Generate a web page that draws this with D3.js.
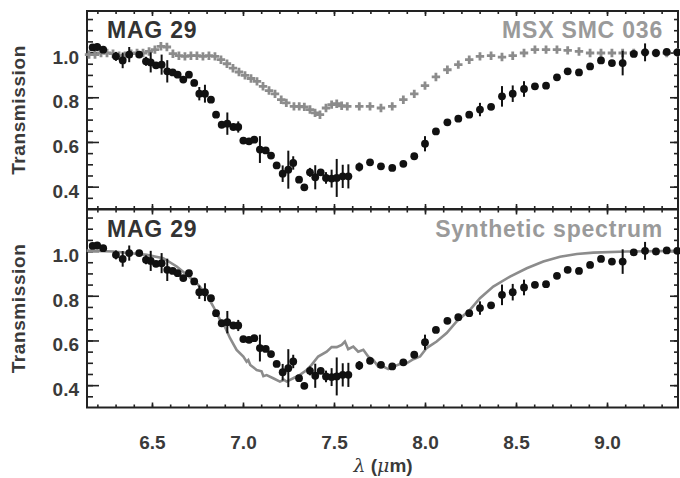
<!DOCTYPE html>
<html>
<head>
<meta charset="utf-8">
<script src="https://cdn.jsdelivr.net/npm/d3@7"></script>
<style>
  body { margin: 0; background: #fff; }
  text { font-family: "Liberation Sans", Arial, sans-serif; font-weight: bold; }
</style>
</head>
<body>
<script>
// MAG 29 optical depth points (wavelength in micron)
const wave = [6.174, 6.199, 6.232, 6.302, 6.339, 6.375, 6.430, 6.467, 6.493, 6.522,
  6.553, 6.584, 6.614, 6.641, 6.672, 6.703, 6.732, 6.760, 6.791, 6.824,
  6.852, 6.883, 6.914, 6.947, 6.974, 7.002, 7.033, 7.062, 7.093, 7.125,
  7.154, 7.185, 7.218, 7.249, 7.276, 7.308, 7.337, 7.368, 7.397, 7.427,
  7.456, 7.487, 7.515, 7.548, 7.579, 7.639, 7.698, 7.758, 7.820, 7.881,
  7.941, 8.000, 8.060, 8.123, 8.183, 8.243, 8.302, 8.363, 8.423, 8.482,
  8.544, 8.604, 8.665, 8.725, 8.784, 8.846, 8.907, 8.967, 9.027, 9.086,
  9.147, 9.209, 9.269, 9.328, 9.386];
const trans = [1.023, 1.025, 1.013, 0.983, 0.965, 0.991, 0.991, 0.961, 0.956, 0.943,
  0.946, 0.916, 0.911, 0.901, 0.879, 0.901, 0.864, 0.816, 0.816, 0.789,
  0.722, 0.677, 0.682, 0.667, 0.667, 0.606, 0.603, 0.610, 0.566, 0.562,
  0.539, 0.495, 0.458, 0.476, 0.506, 0.431, 0.397, 0.464, 0.442, 0.464,
  0.439, 0.436, 0.439, 0.446, 0.446, 0.488, 0.509, 0.491, 0.484, 0.502,
  0.536, 0.592, 0.647, 0.688, 0.704, 0.722, 0.745, 0.757, 0.804, 0.816,
  0.837, 0.849, 0.852, 0.889, 0.916, 0.911, 0.938, 0.965, 0.953, 0.953,
  0.994, 1.001, 0.998, 1.003, 1.001];
const err = [0, 0.015, 0, 0.02, 0.035, 0.034, 0, 0.02, 0.045, 0,
  0.045, 0.05, 0, 0, 0, 0, 0, 0.03, 0.04, 0,
  0, 0, 0.05, 0, 0.025, 0, 0, 0, 0.06, 0,
  0, 0, 0.037, 0.085, 0.03, 0, 0, 0.02, 0.054, 0,
  0.026, 0.04, 0.085, 0.052, 0.054, 0.02, 0, 0, 0, 0,
  0, 0.034, 0, 0, 0, 0, 0.03, 0, 0.046, 0.037,
  0.035, 0, 0, 0, 0, 0, 0, 0, 0, 0.055,
  0, 0.04, 0, 0, 0];

// MSX SMC 036 comparison spectrum (gray crosses)
const crossWave = [6.154, 6.187, 6.220, 6.253, 6.286, 6.319, 6.352, 6.385, 6.418, 6.451,
  6.484, 6.516, 6.549, 6.582, 6.615, 6.648, 6.681, 6.714, 6.747, 6.780,
  6.813, 6.846, 6.879, 6.912, 6.945, 6.978, 7.011, 7.044, 7.077, 7.110,
  7.143, 7.176, 7.210, 7.238, 7.280, 7.309, 7.337, 7.368, 7.396, 7.423,
  7.456, 7.487, 7.515, 7.542, 7.573, 7.639, 7.698, 7.758, 7.820, 7.881,
  7.941, 8.000, 8.060, 8.123, 8.183, 8.243, 8.302, 8.363, 8.423, 8.482,
  8.544, 8.604, 8.665, 8.725, 8.784, 8.846, 8.907, 8.967, 9.027, 9.086,
  9.147, 9.209, 9.269, 9.328, 9.386];
const crossTrans = [0.991, 0.991, 0.998, 0.998, 0.995, 0.986, 0.986, 0.995, 0.998, 0.998,
  1.005, 1.013, 1.028, 1.025, 0.995, 0.986, 0.983, 0.986, 0.986, 0.983,
  0.986, 0.983, 0.968, 0.950, 0.930, 0.913, 0.898, 0.884, 0.871, 0.849,
  0.830, 0.815, 0.789, 0.775, 0.759, 0.759, 0.757, 0.745, 0.730, 0.722,
  0.752, 0.767, 0.771, 0.762, 0.759, 0.759, 0.759, 0.752, 0.759, 0.789,
  0.815, 0.852, 0.891, 0.923, 0.946, 0.968, 0.983, 0.986, 0.980, 0.986,
  0.998, 1.013, 1.013, 1.013, 1.010, 1.005, 0.998, 0.998, 0.998, 0.998,
  0.998, 1.001, 0.998, 0.998, 1.001];

// synthetic spectrum (gray line)
const synthWave = [6.141, 6.287, 6.471, 6.562, 6.636, 6.691, 6.746, 6.801, 6.837, 6.874,
  6.890, 6.901, 6.929, 6.965, 7.002, 7.020, 7.029, 7.040, 7.075, 7.102, 7.112, 7.130,
  7.166, 7.203, 7.225, 7.240, 7.276, 7.313, 7.350, 7.377, 7.413, 7.460,
  7.487, 7.515, 7.542, 7.560, 7.578, 7.606, 7.633, 7.661, 7.688, 7.716,
  7.743, 7.771, 7.798, 7.826, 7.863, 7.899, 7.936, 7.973, 8.009, 8.064,
  8.119, 8.174, 8.247, 8.302, 8.375, 8.467, 8.559, 8.650, 8.742, 8.834,
  8.925, 9.108, 9.401];
const synthTrans = [1.002, 0.998, 0.983, 0.968, 0.931, 0.894, 0.856, 0.804, 0.752, 0.692,
  0.680, 0.660, 0.610, 0.558, 0.528, 0.505, 0.512, 0.490, 0.468, 0.462, 0.440, 0.445,
  0.431, 0.416, 0.424, 0.416, 0.431, 0.446, 0.468, 0.491, 0.528, 0.550,
  0.570, 0.570, 0.580, 0.595, 0.561, 0.573, 0.550, 0.558, 0.528, 0.513,
  0.483, 0.483, 0.472, 0.483, 0.495, 0.498, 0.516, 0.528, 0.566, 0.595,
  0.633, 0.685, 0.737, 0.789, 0.841, 0.886, 0.923, 0.953, 0.975, 0.987,
  0.993, 0.998, 1.001];

const xTicks = [6.5, 7.0, 7.5, 8.0, 8.5, 9.0];
const yTicks = [0.4, 0.6, 0.8, 1.0];

const width = 680, height = 478;
const left = 87, right = 678;

const svg = d3.select("body").append("svg")
    .attr("width", width)
    .attr("height", height);

const x = d3.scaleLinear().domain([6.143, 9.39]).range([left, right]);
const xMinor = d3.range(62, 94).map(d => d / 10).filter(d => d > 6.143 && d < 9.39);
const yMinor = d3.range(7, 24).map(d => d * 0.05);

const dark = "#222", grayc = "#8c8c8c";

function panel(top, bottom, showXLabels) {
  const y = d3.scaleLinear().domain([0.3, 1.186]).range([bottom, top]);
  const g = svg.append("g");

  const ax = (axis, tx, ty) => {
    const a = g.append("g").attr("transform", `translate(${tx},${ty})`).call(axis);
    a.select(".domain").remove();
    a.selectAll("line").attr("stroke", dark).attr("stroke-width", 1.6);
    return a;
  };

  // y ticks: left (long) and right (short)
  ax(d3.axisLeft(y).tickValues(yMinor).tickSize(-6).tickFormat(""), left, 0);
  const yl = ax(d3.axisLeft(y).tickValues(yTicks).tickSize(-12).tickPadding(8).tickFormat(d3.format(".1f")), left, 0);
  yl.selectAll("text")
      .attr("dy", "0.55em")
      .attr("fill", "#3a3a3a")
      .style("font-size", "19px")
      .style("font-family", "Liberation Sans, Arial, sans-serif")
      .style("font-weight", "bold");
  ax(d3.axisRight(y).tickValues(yMinor).tickSize(-4).tickFormat(""), right, 0);
  ax(d3.axisRight(y).tickValues(yTicks).tickSize(-8).tickFormat(""), right, 0);

  // x ticks: top and bottom, pointing inward
  ax(d3.axisTop(x).tickValues(xMinor).tickSize(-3).tickFormat(""), 0, top);
  ax(d3.axisTop(x).tickValues(xTicks).tickSize(-5).tickFormat(""), 0, top);
  ax(d3.axisBottom(x).tickValues(xMinor).tickSize(-3).tickFormat(""), 0, bottom);
  const xb = ax(d3.axisBottom(x).tickValues(xTicks).tickSize(-5).tickPadding(28)
      .tickFormat(showXLabels ? d3.format(".1f") : ""), 0, bottom);
  xb.selectAll("text")
      .attr("fill", "#3a3a3a")
      .style("font-size", "19px")
      .style("font-family", "Liberation Sans, Arial, sans-serif")
      .style("font-weight", "bold");

  g.append("rect")
      .attr("x", left).attr("y", top)
      .attr("width", right - left).attr("height", bottom - top)
      .attr("fill", "none").attr("stroke", dark).attr("stroke-width", 2);

  g.append("text")
      .attr("transform", `translate(25,${(top + bottom) / 2}) rotate(-90)`)
      .attr("text-anchor", "middle")
      .attr("fill", "#3a3a3a")
      .style("font-size", "19px")
      .style("letter-spacing", "0.6px")
      .text("Transmission");

  return {g, y};
}

const p1 = panel(11, 209, false);
const p2 = panel(209.5, 407.5, true);

// top panel: MSX SMC 036 crosses
const cs = 4.2;
p1.g.append("g").selectAll("path")
    .data(d3.zip(crossWave, crossTrans))
  .enter().append("path")
    .attr("d", d => `M${x(d[0]) - cs},${p1.y(d[1])}h${2 * cs}M${x(d[0])},${p1.y(d[1]) - cs}v${2 * cs}`)
    .attr("stroke", grayc)
    .attr("stroke-width", 2.8);

// bottom panel: synthetic spectrum
p2.g.append("path")
    .datum(d3.zip(synthWave, synthTrans))
    .attr("d", d3.line().x(d => x(d[0])).y(d => p2.y(d[1])))
    .attr("fill", "none")
    .attr("stroke", grayc)
    .attr("stroke-width", 2.6);

// MAG 29 points with error bars, both panels
[p1, p2].forEach(p => {
  const pts = d3.range(wave.length).map(i => ({w: wave[i], t: trans[i], e: err[i]}));
  p.g.append("g").selectAll("line")
      .data(pts.filter(d => d.e > 0))
    .enter().append("line")
      .attr("x1", d => x(d.w)).attr("x2", d => x(d.w))
      .attr("y1", d => p.y(d.t - d.e)).attr("y2", d => p.y(d.t + d.e))
      .attr("stroke", "#111").attr("stroke-width", 2);
  p.g.append("g").selectAll("circle")
      .data(pts)
    .enter().append("circle")
      .attr("cx", d => x(d.w)).attr("cy", d => p.y(d.t))
      .attr("r", 3.9)
      .attr("fill", "#111");
});

// panel labels
const label = (tx, ty, anchor, fill, s) => svg.append("text")
    .attr("x", tx).attr("y", ty)
    .attr("text-anchor", anchor)
    .attr("fill", fill)
    .style("font-size", "23px")
    .style("letter-spacing", "0.8px")
    .text(s);
label(107, 37.5, "start", "#333", "MAG 29");
label(663, 37.5, "end", "#9a9a9a", "MSX SMC 036");
label(107, 236.5, "start", "#333", "MAG 29");
label(663, 236.5, "end", "#9a9a9a", "Synthetic spectrum");

// x axis title
const xt = svg.append("text")
    .attr("x", 383).attr("y", 472)
    .attr("text-anchor", "middle")
    .attr("fill", "#3a3a3a")
    .style("font-size", "19px");
xt.append("tspan").style("font-style", "italic").style("font-weight", "normal")
    .style("font-family", "DejaVu Serif, serif").text("λ");
xt.append("tspan").text(" (");
xt.append("tspan").style("font-style", "italic").style("font-weight", "normal")
    .style("font-family", "DejaVu Serif, serif").text("μ");
xt.append("tspan").text("m)");
</script>
</body>
</html>
